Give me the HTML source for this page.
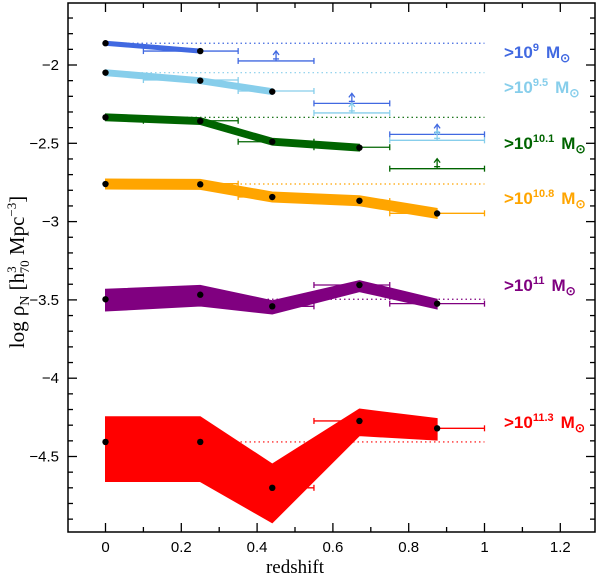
<!DOCTYPE html>
<html><head><meta charset="utf-8"><style>
html,body{margin:0;padding:0;background:#fff;}
svg{display:block;font-family:"Liberation Serif",serif;}
.sans{font-family:"Liberation Sans",sans-serif;}
</style></head><body>
<svg id="chart" width="600" height="578" viewBox="0 0 600 578"></svg>
<script>
// ---- data ----
const seriesNames = ["m9","m9.5","m10.1","m10.8","m11","m11.3"];
const seriesColors = ["#4169e1","#87ceeb","#006400","#ffa500","#800080","#ff0000"];
const seriesLabels = ["9","9.5","10.1","10.8","11","11.3"];
const zPts = [0,0.25,0.44,0.67,0.875];
const vals9 = [-1.861,-1.911];
const vals95 = [-2.049,-2.100,-2.170];
const vals101 = [-2.334,-2.358,-2.490,-2.528];
const vals108 = [-2.760,-2.762,-2.843,-2.867,-2.948];
const vals11 = [-3.496,-3.467,-3.541,-3.405,-3.524];
const vals113 = [-4.407,-4.407,-4.700,-4.273,-4.320];
const up9 = [-1.848,-1.898], lo9 = [-1.874,-1.924];
const up95 = [-2.030,-2.081,-2.151], lo95 = [-2.068,-2.119,-2.189];
const up101 = [-2.312,-2.336,-2.468,-2.506], lo101 = [-2.356,-2.380,-2.512,-2.550];
const up108 = [-2.728,-2.730,-2.811,-2.835,-2.916], lo108 = [-2.792,-2.794,-2.875,-2.899,-2.980];
const up11 = [-3.432,-3.407,-3.505,-3.377,-3.496], lo11 = [-3.571,-3.539,-3.590,-3.447,-3.558];
const up113 = [-4.246,-4.246,-4.548,-4.197,-4.258], lo113 = [-4.660,-4.660,-4.923,-4.367,-4.395];
const errSeries = [0,0,0,0, 1,1,1,1, 2,2,2,2, 3,3,3,3, 4,4,4, 5,5,5];
const errLo =  [0.1,0.35,0.55,0.75, 0.1,0.35,0.55,0.75, 0.1,0.35,0.55,0.75, 0.1,0.35,0.55,0.75, 0.35,0.55,0.75, 0.35,0.55,0.75];
const errHi =  [0.35,0.55,0.75,1.0, 0.35,0.55,0.75,1.0, 0.35,0.55,0.75,1.0, 0.35,0.55,0.75,1.0, 0.55,0.75,1.0, 0.55,0.75,1.0];
const errVal = [-1.911,-1.974,-2.245,-2.443, -2.096,-2.166,-2.306,-2.481, -2.356,-2.490,-2.525,-2.662, -2.758,-2.843,-2.869,-2.947, -3.541,-3.405,-3.524, -4.700,-4.273,-4.320];
const errLimit = [0,1,1,1, 0,0,1,1, 0,0,0,1, 0,0,0,0, 0,0,0, 0,0,0];
const xTicks = [0,0.2,0.4,0.6,0.8,1,1.2];
const xTickLabels = ["0","0.2","0.4","0.6","0.8","1","1.2"];
const yTicks = [-2,-2.5,-3,-3.5,-4,-4.5];
const yTickLabels = ["\u22122","\u22122.5","\u22123","\u22123.5","\u22124","\u22124.5"];

// ---- axes ----
const L=68,R=595,T=3,B=532;
const xs = z => 105.5 + 379*z;
const ys = v => 65 + (-2 - v)*156.6;
const svg = document.getElementById('chart');
const NS = "http://www.w3.org/2000/svg";
function mk(tag, attrs, parent){const e=document.createElementNS(NS,tag);for(const k in attrs)e.setAttribute(k,attrs[k]);(parent||svg).appendChild(e);return e;}

const allVals=[vals9,vals95,vals101,vals108,vals11,vals113];
const allUp=[up9,up95,up101,up108,up11,up113];
const allLo=[lo9,lo95,lo101,lo108,lo11,lo113];

allVals.forEach((vals,i)=>{
  const e=mk('line',{x1:xs(0),x2:xs(1),y1:ys(vals[0]),y2:ys(vals[0]),stroke:seriesColors[i],'stroke-width':1.2,'stroke-dasharray':'1.5,3'});
  
  
});
for(let k=0;k<errVal.length;k++){
  const c=seriesColors[errSeries[k]];
  const g=mk('g',{stroke:c,'stroke-width':1.3,fill:'none'});
  
  
  const y=ys(errVal[k]),x1=xs(errLo[k]),x2=xs(errHi[k]);
  mk('line',{x1:x1,x2:x2,y1:y,y2:y},g);
  mk('line',{x1:x1,x2:x1,y1:y-3,y2:y+3},g);
  mk('line',{x1:x2,x2:x2,y1:y-3,y2:y+3},g);
  if(errLimit[k]){
    const xm=(x1+x2)/2;
    mk('line',{x1:xm,x2:xm,y1:y,y2:y-9},g);
    mk('path',{d:`M${xm-3},${y-6} L${xm},${y-10} L${xm+3},${y-6}`},g);
    mk('line',{x1:xm-3,x2:xm+3,y1:y-2,y2:y-2},g);
  }
}
allVals.forEach((vals,i)=>{
  const up=allUp[i],lo=allLo[i];
  let pts=[];
  for(let j=0;j<vals.length;j++)pts.push(xs(zPts[j])+','+ys(up[j]));
  for(let j=vals.length-1;j>=0;j--)pts.push(xs(zPts[j])+','+ys(lo[j]));
  const p=mk('polygon',{points:pts.join(' '),fill:seriesColors[i],stroke:seriesColors[i],'stroke-width':1});
  
  
  for(let j=0;j<vals.length;j++){
    const d=mk('circle',{cx:xs(zPts[j]),cy:ys(vals[j]),r:3.2,fill:'#000'});
    
    
  }
});
const labelY=[52,87,143,198,285,422];
seriesLabels.forEach((s,i)=>{
  const t=mk('text',{x:504,y:labelY[i]+6,fill:seriesColors[i],'font-size':17,'font-weight':'bold','class':'sans'});
  
  
  t.innerHTML=`&gt;10<tspan font-size="11" dy="-7">${s}</tspan><tspan dy="7" dx="7">M</tspan><tspan font-size="12" dy="4">\u2299</tspan>`;
});
const fr=mk('rect',{x:L,y:T,width:R-L,height:B-T,fill:'none',stroke:'#000','stroke-width':1.5});


for(let i=-1;i<=13;i++){
  const z=i/10, x=xs(z); if(x<L||x>R)continue;
  const len=(i%2===0)?9:5;
  mk('line',{x1:x,x2:x,y1:B,y2:B-len,stroke:'#000','stroke-width':1.3});
  mk('line',{x1:x,x2:x,y1:T,y2:T+len,stroke:'#000','stroke-width':1.3});
}
xTicks.forEach((z,i)=>{
  const t=mk('text',{x:xs(z),y:552,'text-anchor':'middle','font-size':15,'class':'sans'});
  
  
  t.textContent=xTickLabels[i];
});
for(let i=16;i<=50;i++){
  const v=-i/10, y=ys(v); if(y<T||y>B)continue;
  const len=(i%5===0)?9:5;
  mk('line',{x1:L,x2:L+len,y1:y,y2:y,stroke:'#000','stroke-width':1.3});
  mk('line',{x1:R,x2:R-len,y1:y,y2:y,stroke:'#000','stroke-width':1.3});
}
yTicks.forEach((v,i)=>{
  const t=mk('text',{x:59,y:ys(v)+5,'text-anchor':'end','font-size':15,'class':'sans'});
  
  
  t.textContent=yTickLabels[i];
});
const xt=mk('text',{x:xs(0.5),y:573,'text-anchor':'middle','font-size':19});


xt.textContent='redshift';
const yt=mk('text',{x:0,y:0,'text-anchor':'middle','font-size':21,transform:'translate(24,272) rotate(-90)'});


yt.innerHTML='log \u03C1<tspan font-size="14" dy="5">N</tspan><tspan dy="-5"> [h</tspan><tspan font-size="13" dy="-8">3</tspan><tspan font-size="13" dy="13" dx="-7">70</tspan><tspan dy="-5"> Mpc</tspan><tspan font-size="13" dy="-8">\u22123</tspan><tspan dy="8">]</tspan>';
</script>
</body></html>
